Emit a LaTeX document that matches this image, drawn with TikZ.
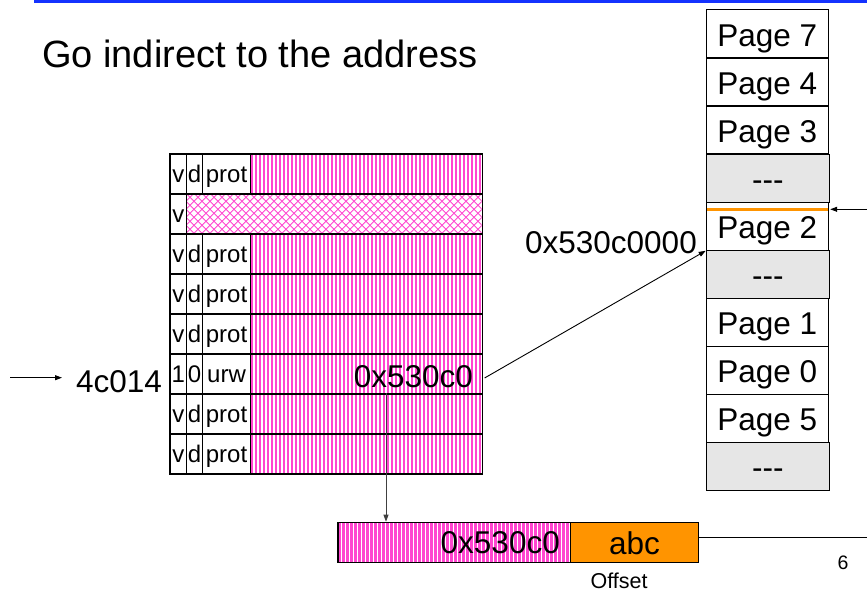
\documentclass[tikz,border=0pt]{standalone}
\usepackage{fontspec}
\setmainfont{Liberation Sans}
\usetikzlibrary{arrows.meta,calc}
\definecolor{hotpink}{RGB}{255,70,208}
\definecolor{slideblue}{RGB}{20,50,255}
\definecolor{pageorange}{RGB}{255,148,0}
\definecolor{emptygrey}{RGB}{230,230,230}
\newcommand{\fs}[1]{\fontsize{#1}{#1}\selectfont}
\newcommand{\threedash}{-\kern0pt-\kern0pt-}
% vertical pink stripes inside the box (x1,y1)-(x2,y2)
\newcommand{\stripebox}[4]{%
  \begin{scope}
    \clip (#1,#2) rectangle (#3,#4);
    \foreach \n in {0,...,60}{\fill[hotpink] ({#1+1+4*\n},#2) rectangle ++(2.2,{#4-#2});}
  \end{scope}}
% diagonal pink lattice inside the box (x1,y1)-(x2,y2)
\newcommand{\latticebox}[4]{%
  \begin{scope}
    \clip (#1,#2) rectangle (#3,#4);
    \foreach \n in {-6,...,40}{
      \draw[hotpink,line width=0.9pt] ({#1+8*\n},#2) -- ++({#4-#2},{#4-#2});
      \draw[hotpink,line width=0.9pt] ({#1+8*\n},#4) -- ++({#4-#2},{#2-#4});}
  \end{scope}}

\begin{document}
\begin{tikzpicture}[x=1pt,y=-1pt,
  cell/.style={draw=black,line width=1.4pt,anchor=north west,inner sep=0pt,
    minimum height=40pt,text height=28.5pt,text depth=11.5pt,font=\fs{24}},
  pagebox/.style={draw=black,line width=1.2pt,anchor=north west,inner sep=0pt,
    minimum width=122pt,minimum height=48pt,text height=36.4pt,text depth=11.6pt,font=\fs{31.5}},
  emptybox/.style={pagebox,fill=emptygrey,minimum width=123.3pt},
  conn/.style={-{Triangle[length=7pt,width=5pt]},line width=0.9pt},
  big/.style={font=\fs{31.5},inner sep=0pt}
]
\useasboundingbox (0,0) rectangle (867,593);

% slide rule and heading
\fill[slideblue] (34,0) rectangle (867,3.4);
\node[font=\fs{38},anchor=base west,inner sep=0pt] (title) at (42,68) {Go indirect to the address};

% page table: one row per entry
\foreach \i/\va/\vb/\vc in {0/v/d/prot,2/v/d/prot,3/v/d/prot,4/v/d/prot,5/1/0/urw,6/v/d/prot,7/v/d/prot}{
  \pgfmathsetmacro\rowtop{153.3+40*\i}
  \stripebox{250}{\rowtop}{481.7}{\rowtop+40}
  \node[cell,minimum width=231.7pt] (f\i) at (250,\rowtop) {};
  \node[cell,minimum width=16.7pt] (v\i) at (169.3,\rowtop) {\va};
  \node[cell,minimum width=15.7pt] (d\i) at (186,\rowtop) {\vb};
  \node[cell,minimum width=48.3pt] (p\i) at (201.7,\rowtop) {\vc};
}
% the one entry with only a valid bit
\latticebox{186}{193.3}{481.7}{233.3}
\node[cell,minimum width=295.7pt] (f1) at (186,193.3) {};
\node[cell,minimum width=16.7pt] (v1) at (169.3,193.3) {v};

\node[big,anchor=base east] (frame) at ($(f5.south east)+(-10,-7.3)$) {0x530c0};

% incoming index
\node[big,anchor=base west] (idx) at (76,392.7) {4c014};
\coordinate (idxsrc) at (10,377.7);
\draw[conn] (idxsrc) -- (idxsrc -| 62,0);

% physical memory
\foreach \k/\name/\lbl in {0/pg7/Page 7,1/pg4/Page 4,2/pg3/Page 3,4/pg2/Page 2,6/pg1/Page 1,7/pg0/Page 0,8/pg5/Page 5}{
  \node[pagebox] (\name) at (705.7,{9.3+48.07*\k}) {\lbl};
}
\foreach \k/\name in {3/e1,5/e2,9/e3}{
  \node[emptybox] (\name) at (705.7,{9.3+48.07*\k}) {\threedash};
}
\draw[pageorange,line width=2.5pt] ($(pg2.north west)+(1,7.7)$) -- ($(pg2.north east)+(-1,7.7)$);
\coordinate (ptr) at (867,209.3);
\draw[conn] (ptr) -- (ptr -| e1.east);

\draw[conn] ($(f5.east)+(1.5,4)$) -- (pg2.south west);
\node[big,anchor=base east] (base) at (697,253.3) {0x530c0000};

% resulting physical address
\stripebox{337.3}{521.7}{570}{561.7}
\node[cell,minimum width=232.7pt] (lowaddr) at (337.3,521.7) {};
\node[cell,minimum width=127.7pt,fill=pageorange,font=\fs{31.5},text height=31.6pt,text depth=8.4pt] (lowoff) at (570,521.7) {abc};
\node[big,anchor=base east] (lowframe) at (560,553.3) {0x530c0};
\node[font=\fs{21.5},anchor=base,inner sep=0pt] (offlbl) at (619,588.3) {Offset};

\coordinate (tap) at (386,393.3);
\draw[conn,draw=black!75,fill=black!75] (tap) -- (tap |- lowaddr.north);
\coordinate (rightend) at (867,537);
\draw[line width=0.9pt] (lowoff.east |- rightend) -- (rightend);

\node[font=\fs{19.5},anchor=base,inner sep=0pt] (pnum) at (843,569.3) {6};
\end{tikzpicture}
\end{document}
